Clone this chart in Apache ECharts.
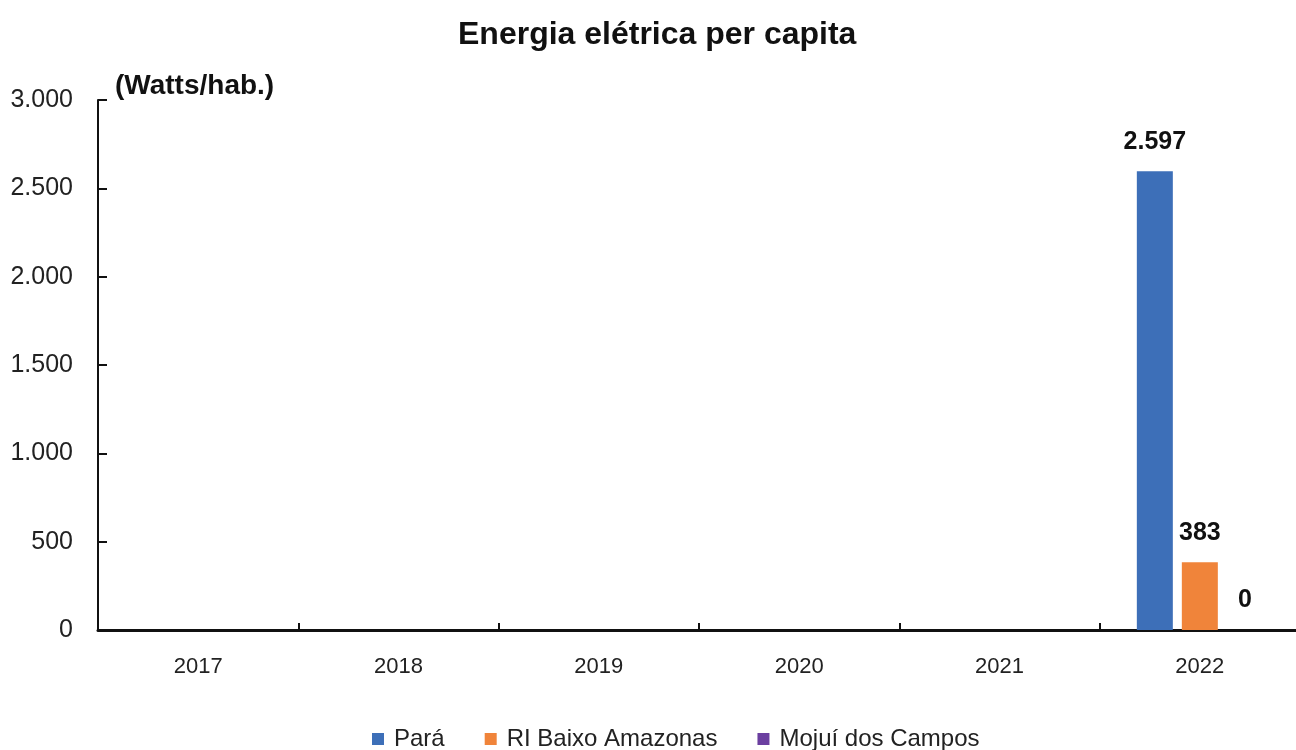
<!DOCTYPE html>
<html>
<head>
<meta charset="utf-8">
<script src="https://cdn.jsdelivr.net/npm/echarts@6/dist/echarts.min.js"></script>
<style>html,body{margin:0;padding:0;background:#fff;}#c{width:1296px;height:750px;}</style>
</head>
<body>
<div id="c"></div>
<script>
const categories = ['2017', '2018', '2019', '2020', '2021', '2022'];
const seriesNames = ['Pará', 'RI Baixo Amazonas', 'Mojuí dos Campos'];
const para = [null, null, null, null, null, 2597];
const riBaixoAmazonas = [null, null, null, null, null, 383];
const mojuiDosCampos = [null, null, null, null, null, 0];
const yTicks = [0, 500, 1000, 1500, 2000, 2500, 3000];

function fmt(v) {
  return String(Math.round(v)).replace(/\B(?=(\d{3})+(?!\d))/g, '.');
}
const font = 'Arial, "Liberation Sans", sans-serif';
const colors = ['#3D6FB8', '#F0843A', '#6B3FA0'];
const labelCfg = {
  show: true, position: 'top', distance: 17,
  fontFamily: font, fontWeight: 'bold', fontSize: 25, color: '#111',
  formatter: p => fmt(p.value)
};
const chart = echarts.init(document.getElementById('c'));
chart.setOption({
  animation: false,
  title: {
    text: 'Energia elétrica per capita', left: 453, top: 14,
    textStyle: { fontFamily: font, fontWeight: 'bold', fontSize: 32, color: '#111' }
  },
  graphic: [{
    type: 'text', left: 115, top: 72,
    style: { text: '(Watts/hab.)', fontFamily: font, fontWeight: 'bold', fontSize: 28, fill: '#111' }
  }],
  legend: {
    top: 727, left: 372, itemWidth: 12, itemHeight: 12, itemGap: 40,
    padding: 0, icon: 'rect',
    textStyle: { fontFamily: font, fontSize: 24, color: '#222', padding: [0, 0, 0, 5] },
    data: seriesNames
  },
  grid: { left: 98, width: 1202, top: 100, bottom: 120, containLabel: false, outerBoundsMode: 'none' },
  xAxis: {
    type: 'category', data: categories,
    axisLine: { lineStyle: { color: '#111', width: 3 } },
    axisTick: { show: true, inside: true, length: 7, lineStyle: { color: '#111', width: 2 } },
    axisLabel: { fontFamily: font, fontSize: 22, color: '#222', margin: 26 }
  },
  yAxis: {
    type: 'value', min: 0, max: 3000, interval: 500,
    splitLine: { show: false },
    axisLine: { show: true, lineStyle: { color: '#111', width: 2 } },
    axisTick: { show: true, inside: true, length: 9, lineStyle: { color: '#111', width: 2 } },
    axisLabel: {
      fontFamily: font, fontSize: 25, color: '#222', margin: 25,
      formatter: v => yTicks.includes(v) ? fmt(v) : ''
    }
  },
  series: [
    { name: seriesNames[0], type: 'bar', data: para, itemStyle: { color: colors[0] }, label: labelCfg, barWidth: 36, barGap: '25%' },
    { name: seriesNames[1], type: 'bar', data: riBaixoAmazonas, itemStyle: { color: colors[1] }, label: labelCfg, barWidth: 36, barGap: '25%' },
    { name: seriesNames[2], type: 'bar', data: mojuiDosCampos, itemStyle: { color: colors[2] }, label: labelCfg, barWidth: 36, barGap: '25%' }
  ]
});
</script>
</body>
</html>
